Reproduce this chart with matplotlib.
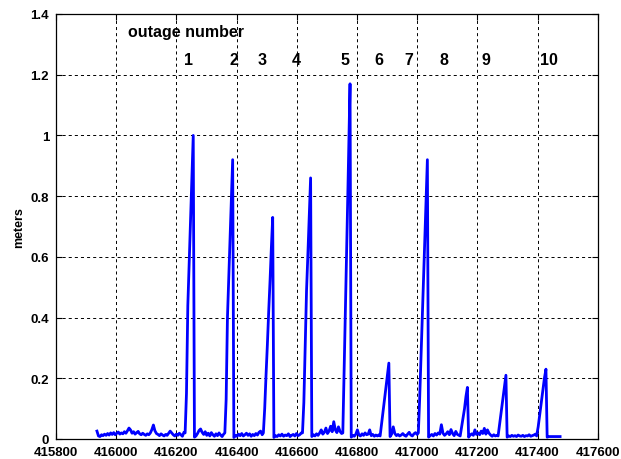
import numpy as np
import matplotlib
matplotlib.use("Agg")
import matplotlib.pyplot as plt
from matplotlib.ticker import FuncFormatter

# =========================
# data: position error during GPS outages
# =========================
t_first = 415936      # first sample
t_last = 417475       # last sample

# each outage: error ramps up from ramp_start to peak_time, then resets
ramp_start = [416229, 416361, 416489, 416619, 416753, 416877, 417004, 417143, 417269, 417397]
peak_time = [416256, 416387, 416520, 416646, 416777, 416906, 417034, 417167, 417295, 417428]

ramp_1 = [0.02, 0.15, 0.44, 0.58, 0.72, 0.86, 1.00]
ramp_2 = [0.02, 0.13, 0.40, 0.53, 0.66, 0.79, 0.92]
ramp_3 = [0.02, 0.10, 0.21, 0.31, 0.42, 0.52, 0.63, 0.73]
ramp_4 = [0.02, 0.12, 0.31, 0.49, 0.61, 0.74, 0.86]
ramp_5 = [0.02, 0.18, 0.35, 0.50, 0.67, 0.83, 1.00, 1.17]
ramp_6 = [0.01, 0.05, 0.09, 0.13, 0.17, 0.21, 0.25]
ramp_7 = [0.02, 0.13, 0.26, 0.40, 0.53, 0.66, 0.79, 0.92]
ramp_8 = [0.01, 0.04, 0.07, 0.10, 0.14, 0.17]
ramp_9 = [0.01, 0.05, 0.09, 0.13, 0.17, 0.21]
ramp_10 = [0.01, 0.04, 0.08, 0.12, 0.16, 0.20, 0.23]

# error between outages (roughly one value every 5 s)
gap_0 = [0.026, 0.010, 0.008, 0.014, 0.011, 0.016, 0.012, 0.018, 0.013, 0.020,
         0.015, 0.021, 0.014, 0.019, 0.023, 0.016, 0.020, 0.017, 0.024, 0.019,
         0.027, 0.036, 0.030, 0.019, 0.024, 0.016, 0.021, 0.025, 0.017, 0.014,
         0.019, 0.015, 0.012, 0.017, 0.014, 0.020, 0.031, 0.046, 0.027, 0.018,
         0.015, 0.011, 0.017, 0.013, 0.010, 0.015, 0.012, 0.019, 0.026, 0.020,
         0.014, 0.010, 0.016, 0.012, 0.019, 0.014, 0.009, 0.022]
gap_1 = [0.006, 0.010, 0.018, 0.028, 0.033, 0.022, 0.015, 0.024, 0.012, 0.019,
         0.010, 0.021, 0.014, 0.009, 0.017, 0.011, 0.020, 0.013, 0.008, 0.016]
gap_2 = [0.005, 0.012, 0.009, 0.016, 0.011, 0.018, 0.010, 0.014, 0.019, 0.012,
         0.017, 0.009, 0.015, 0.011, 0.018, 0.013, 0.022, 0.026, 0.014]
gap_3 = [0.005, 0.011, 0.008, 0.014, 0.010, 0.016, 0.009, 0.013, 0.011, 0.017,
         0.008, 0.012, 0.015, 0.010, 0.018, 0.011, 0.014, 0.020]
gap_4 = [0.008, 0.014, 0.010, 0.017, 0.012, 0.020, 0.030, 0.016, 0.022, 0.036,
         0.018, 0.026, 0.042, 0.024, 0.057, 0.030, 0.021, 0.040, 0.025, 0.018]
gap_5 = [0.006, 0.012, 0.009, 0.016, 0.030, 0.013, 0.010, 0.017, 0.012, 0.020,
         0.014, 0.016, 0.030, 0.011, 0.015, 0.009, 0.013, 0.010, 0.014]
gap_6 = [0.008, 0.016, 0.040, 0.018, 0.011, 0.015, 0.010, 0.013, 0.018, 0.012,
         0.009, 0.016, 0.022, 0.013, 0.010, 0.017, 0.021, 0.015]
gap_7 = [0.006, 0.011, 0.015, 0.010, 0.018, 0.013, 0.020, 0.016, 0.047, 0.019,
         0.012, 0.017, 0.024, 0.014, 0.031, 0.018, 0.011, 0.025, 0.015, 0.012]
gap_8 = [0.006, 0.013, 0.017, 0.012, 0.030, 0.015, 0.020, 0.014, 0.026, 0.018,
         0.035, 0.016, 0.030, 0.019, 0.013, 0.009, 0.014, 0.010, 0.012]
gap_9 = [0.006, 0.010, 0.008, 0.012, 0.009, 0.011, 0.008, 0.013, 0.010, 0.009,
         0.012, 0.008, 0.011, 0.010, 0.014, 0.009, 0.011, 0.013, 0.016]
gap_10 = [0.006, 0.008, 0.008, 0.008, 0.008, 0.008, 0.008, 0.008, 0.008]

ramps = [ramp_1, ramp_2, ramp_3, ramp_4, ramp_5, ramp_6, ramp_7, ramp_8, ramp_9, ramp_10]
gaps = [gap_0, gap_1, gap_2, gap_3, gap_4, gap_5, gap_6, gap_7, gap_8, gap_9, gap_10]

# outage number labels (x position of each label)
outage_labels = ["1", "2", "3", "4", "5", "6", "7", "8", "9", "10"]
label_x = [416240, 416390, 416486, 416598, 416760, 416872, 416973, 417089, 417229, 417438]

# =========================
# build the time series
# =========================
t_all, m_all = [], []
seg_begin = t_first
for k, gap in enumerate(gaps):
    seg_end = ramp_start[k] - 4 if k < len(ramps) else t_last
    t_all.extend(np.linspace(seg_begin, seg_end, len(gap)))
    m_all.extend(gap)
    if k < len(ramps):
        t_all.extend(np.linspace(ramp_start[k], peak_time[k], len(ramps[k])))
        m_all.extend(ramps[k])
        seg_begin = peak_time[k] + 4

# =========================
# plot
# =========================
plt.rcParams["font.family"] = ["Liberation Sans", "DejaVu Sans"]
plt.rcParams["font.weight"] = "bold"
plt.rcParams["lines.scale_dashes"] = False

fig = plt.figure(figsize=(6.21, 4.60), dpi=100)
ax = fig.add_axes([0.0902, 0.0435, 0.8723, 0.9239])

ax.plot(t_all, m_all, color=(0, 0, 1), linewidth=2.0)

ax.set_xlim(415800, 417600)
ax.set_ylim(0, 1.4)
ax.set_xticks(np.arange(415800, 417601, 200))
ax.set_yticks(np.arange(0, 1.41, 0.2))
ax.xaxis.set_major_formatter(FuncFormatter(lambda v, p: "%d" % round(v)))
ax.yaxis.set_major_formatter(FuncFormatter(lambda v, p: "%g" % round(v, 1)))

ax.tick_params(direction="in", length=4, width=0.8, labelsize=9.5,
               top=True, right=True, pad=5)
for lbl in ax.get_xticklabels() + ax.get_yticklabels():
    lbl.set_fontweight("bold")
for sp in ax.spines.values():
    sp.set_linewidth(0.9)

ax.grid(True, color="black", linestyle=(0, (2.2, 2.2)), linewidth=0.7)
ax.set_axisbelow(True)

ax.set_ylabel("meters", fontsize=9, fontweight="bold", labelpad=4)

ax.text(416039, 1.326, "outage number", fontsize=11.5, fontweight="bold",
        ha="left", va="baseline")
for x, s in zip(label_x, outage_labels):
    ax.text(x, 1.236, s, fontsize=11.5, fontweight="bold", ha="center", va="baseline")

fig.savefig("out.png", dpi=100)
